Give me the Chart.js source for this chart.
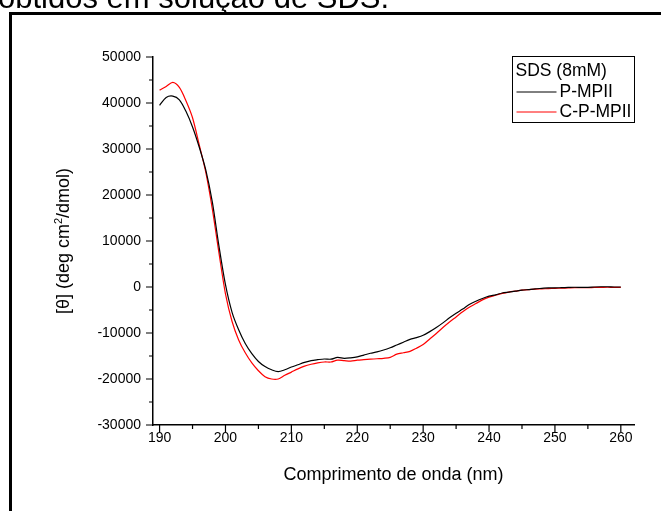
<!DOCTYPE html>
<html>
<head>
<meta charset="utf-8">
<script src="https://cdn.jsdelivr.net/npm/chart.js@4"></script>
<style>
  html, body { margin: 0; padding: 0; background: #fff; overflow: hidden; }
  #wrap { position: relative; width: 661px; height: 511px; }
</style>
</head>
<body>
<div id="wrap"><canvas id="cdChart" width="661" height="511"></canvas></div>
<script>
const wavelengths = [190, 191, 192, 193, 194, 195, 196, 197, 198, 199,
  200, 201, 202, 203, 204, 205, 206, 207, 208, 209,
  210, 211, 212, 213, 214, 215, 216, 217, 218, 219,
  220, 221, 222, 223, 224, 225, 226, 227, 228, 229,
  230, 231, 232, 233, 234, 235, 236, 237, 238, 239,
  240, 241, 242, 243, 244, 245, 246, 247, 248, 249,
  250, 251, 252, 253, 254, 255, 256, 257, 258, 259, 260];

const pmpii = [39500, 41200, 41500, 40700, 38200, 34800, 30500, 25500, 18500, 9000,
  500, -5500, -9300, -12300, -14500, -16200, -17300, -18000, -18400, -18000,
  -17400, -16900, -16400, -16000, -15800, -15650, -15700, -15300, -15500, -15400,
  -15200, -14800, -14400, -14100, -13700, -13200, -12600, -12000, -11400, -11000,
  -10500, -9700, -8800, -7800, -6700, -5700, -4800, -3800, -3100, -2500,
  -2000, -1700, -1300, -1100, -900, -700, -550, -400, -300, -200,
  -200, -150, -100, -50, -80, -70, 0, 50, 50, 0, 0];

const cpmpii = [42800, 43600, 44500, 43400, 40500, 36800, 31000, 25000, 17000, 7500,
  -1500, -7500, -11500, -14300, -16500, -18200, -19500, -20000, -20000, -19200,
  -18500, -17800, -17200, -16800, -16500, -16300, -16300, -15900, -16000, -16100,
  -15900, -15800, -15700, -15600, -15500, -15300, -14600, -14300, -14000, -13300,
  -12500, -11300, -10100, -8800, -7600, -6500, -5400, -4400, -3600, -2800,
  -2200, -1800, -1400, -1100, -900, -700, -550, -450, -400, -350,
  -300, -250, -200, -150, -150, -150, -100, -80, -50, -100, -70];

const seriesNames = ["P-MPII", "C-P-MPII"];
const seriesColors = ["#000000", "#ff0000"];
const legendTitle = "SDS (8mM)";

const xTicks = [190, 195, 200, 205, 210, 215, 220, 225, 230, 235, 240, 245, 250, 255, 260];
const yTicks = [-30000, -25000, -20000, -15000, -10000, -5000, 0, 5000, 10000, 15000,
  20000, 25000, 30000, 35000, 40000, 45000, 50000];

const headerText = "obtidos em solução de SDS.";
const xTitle = "Comprimento de onda (nm)";

const FONT = 'Arial, "Liberation Sans", sans-serif';

function toPoints(ys) {
  return wavelengths.map((x, i) => ({ x: x, y: ys[i] }));
}

// frame, header, minor/major ticks, y title and legend
const extras = {
  id: "extras",
  afterDraw(chart) {
    const ctx = chart.ctx;
    const xs = chart.scales.x;
    const ys = chart.scales.y;
    const area = chart.chartArea;
    ctx.save();

    // cut-off header line and page frame
    ctx.fillStyle = "#000";
    ctx.font = "31px " + FONT;
    ctx.textBaseline = "alphabetic";
    ctx.textAlign = "left";
    ctx.fillText(headerText, -2, 8);
    ctx.lineWidth = 3;
    ctx.strokeStyle = "#000";
    ctx.beginPath();
    ctx.moveTo(10.5, 520);
    ctx.lineTo(10.5, 13.5);
    ctx.lineTo(670, 13.5);
    ctx.stroke();

    // tick marks
    ctx.lineWidth = 1.2;
    ctx.beginPath();
    xTicks.forEach(v => {
      const px = xs.getPixelForValue(v);
      const len = v % 10 === 0 ? 7 : 4;
      ctx.moveTo(px, area.bottom);
      ctx.lineTo(px, area.bottom + len);
    });
    yTicks.forEach(v => {
      const py = ys.getPixelForValue(v);
      const len = v % 10000 === 0 ? 7 : 4;
      ctx.moveTo(area.left, py);
      ctx.lineTo(area.left - len, py);
    });
    ctx.stroke();

    // y axis title
    ctx.save();
    ctx.translate(69, (area.top + area.bottom) / 2);
    ctx.rotate(-Math.PI / 2);
    ctx.textBaseline = "alphabetic";
    ctx.textAlign = "left";
    const t1 = "[θ] (deg cm";
    const t2 = "/dmol)";
    ctx.font = "18px " + FONT;
    const w1 = ctx.measureText(t1).width;
    const w2 = ctx.measureText(t2).width;
    ctx.font = "11px " + FONT;
    const wsup = ctx.measureText("2").width;
    const start = -(w1 + wsup + w2) / 2;
    ctx.font = "18px " + FONT;
    ctx.fillText(t1, start, 0);
    ctx.font = "11px " + FONT;
    ctx.fillText("2", start + w1, -7);
    ctx.font = "18px " + FONT;
    ctx.fillText(t2, start + w1 + wsup, 0);
    ctx.restore();

    // legend box
    const lx = 512.5, ly = 56.5, lw = 122, lh = 66;
    ctx.lineWidth = 1;
    ctx.strokeStyle = "#000";
    ctx.strokeRect(lx, ly, lw, lh);
    ctx.font = "17.5px " + FONT;
    ctx.textBaseline = "middle";
    ctx.textAlign = "left";
    ctx.fillStyle = "#000";
    ctx.fillText(legendTitle, lx + 3, ly + 14.5);
    seriesNames.forEach((name, i) => {
      const yy = ly + 35.5 + i * 20;
      ctx.strokeStyle = seriesColors[i];
      ctx.beginPath();
      ctx.moveTo(lx + 4, yy);
      ctx.lineTo(lx + 44, yy);
      ctx.stroke();
      ctx.fillStyle = "#000";
      ctx.fillText(name, lx + 47, yy + 0.5);
    });
    ctx.restore();
  }
};

new Chart(document.getElementById("cdChart"), {
  type: "line",
  data: {
    datasets: [
      {
        label: seriesNames[0],
        data: toPoints(pmpii),
        borderColor: seriesColors[0],
        borderWidth: 1.2,
        pointRadius: 0,
        tension: 0.3,
        fill: false
      },
      {
        label: seriesNames[1],
        data: toPoints(cpmpii),
        borderColor: seriesColors[1],
        borderWidth: 1.2,
        pointRadius: 0,
        tension: 0.3,
        fill: false
      }
    ]
  },
  options: {
    responsive: false,
    animation: false,
    devicePixelRatio: 1,
    layout: { padding: { left: 0, top: 57, right: 27, bottom: 21 } },
    plugins: {
      legend: { display: false },
      title: { display: false },
      tooltip: { enabled: false }
    },
    scales: {
      x: {
        type: "linear",
        min: 189,
        max: 262,
        afterBuildTicks: s => { s.ticks = xTicks.map(v => ({ value: v })); },
        afterFit: s => { s.height = 65; },
        grid: { display: false, drawTicks: false },
        border: { display: true, color: "#000", width: 1.5 },
        ticks: {
          autoSkip: false,
          maxRotation: 0,
          padding: 5,
          color: "#000",
          font: { family: FONT, size: 14 },
          callback: v => (v % 10 === 0 ? String(v) : "")
        },
        title: {
          display: true,
          text: xTitle,
          color: "#000",
          font: { family: FONT, size: 18 },
          padding: { top: 4, bottom: 4 }
        }
      },
      y: {
        type: "linear",
        min: -30000,
        max: 50000,
        afterBuildTicks: s => { s.ticks = yTicks.map(v => ({ value: v })); },
        afterFit: s => { s.width = 153; },
        grid: { display: false, drawTicks: false },
        border: { display: true, color: "#000", width: 1.5 },
        ticks: {
          autoSkip: false,
          padding: 12,
          color: "#000",
          font: { family: FONT, size: 14 },
          callback: v => (v % 10000 === 0 ? String(v) : "")
        }
      }
    }
  },
  plugins: [extras]
});
</script>
</body>
</html>
